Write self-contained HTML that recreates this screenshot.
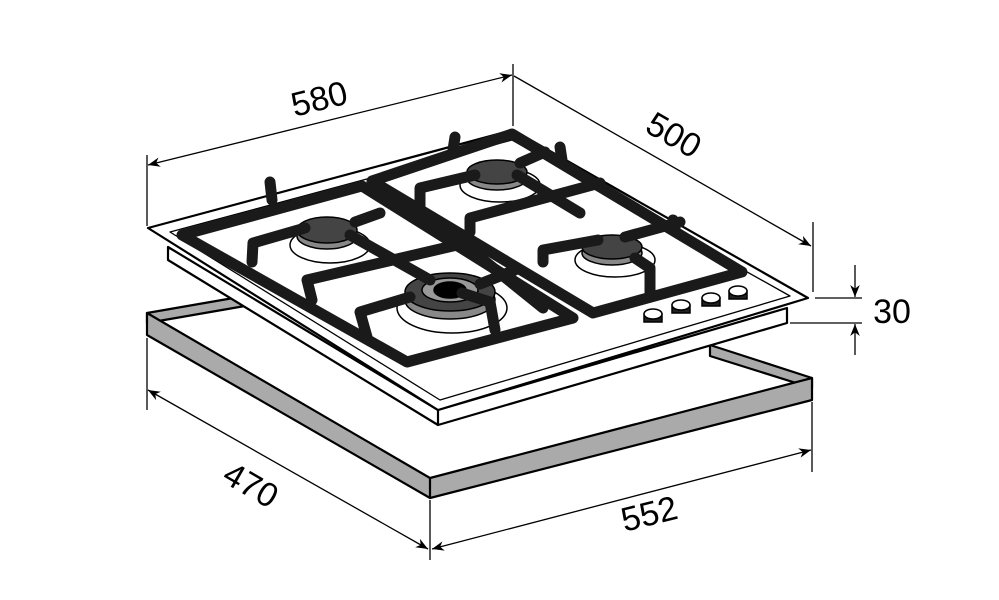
<!DOCTYPE html>
<html><head><style>html,body{margin:0;padding:0;background:#fff}svg{display:block}</style></head>
<body>
<svg width="999" height="600" viewBox="0 0 999 600" xmlns="http://www.w3.org/2000/svg">
<defs>
<marker id="a" viewBox="0 0 10 10" refX="10" refY="5" markerWidth="12" markerHeight="12" orient="auto-start-reverse" markerUnits="userSpaceOnUse"><path d="M0,1 L10,5 L0,9 L3,5 Z" fill="#000"/></marker>
</defs>
<g fill="none" stroke="#000" stroke-width="2.2" stroke-linejoin="round">
<!-- frame -->
<polygon points="147,313 245,296 245,306 147,323" fill="#aaa"/>
<polygon points="710,345 812,378 812,388 710,356" fill="#aaa"/>
<polygon points="147,313 430,478 812,378 812,400 430,498 147,335" fill="#aaa"/>
<line x1="430" y1="478" x2="430" y2="498"/>
<!-- hob sides -->
<polygon points="168,247 438,410 787,308 787,323 438,425 168,260" fill="#fff"/>
<line x1="438" y1="410" x2="438" y2="425"/>
<!-- hob top -->
<polygon points="148,228 513,130 808,298 438,410" fill="#fff"/>
<polygon points="170,232 512,140 790,296 440,400" stroke-width="1.3"/>
</g>
<!-- burners -->
<g stroke="#000" stroke-width="1.5">
<ellipse cx="330" cy="245" rx="40" ry="18" fill="#fff"/>
<ellipse cx="327" cy="236" rx="30" ry="13" fill="#888"/>
<ellipse cx="327" cy="230" rx="30" ry="13" fill="#444"/>
<ellipse cx="500" cy="185" rx="40" ry="17" fill="#fff"/>
<ellipse cx="497" cy="178" rx="30" ry="12" fill="#888"/>
<ellipse cx="497" cy="172" rx="30" ry="12" fill="#444"/>
<ellipse cx="615" cy="260" rx="40" ry="17" fill="#fff"/>
<ellipse cx="612" cy="253" rx="30" ry="12" fill="#888"/>
<ellipse cx="612" cy="247" rx="30" ry="12" fill="#444"/>
<ellipse cx="452" cy="308" rx="55" ry="25" fill="#fff"/>
<ellipse cx="450" cy="300" rx="45" ry="19" fill="#888"/>
<ellipse cx="450" cy="292" rx="45" ry="19" fill="#444"/>
<ellipse cx="450" cy="290" rx="28" ry="12" fill="#999"/>
<ellipse cx="450" cy="290" rx="16" ry="8" fill="#000"/>
</g>
<!-- grates -->
<g fill="none" stroke="#1a1a1a" stroke-width="11" stroke-linejoin="round" stroke-linecap="round">
<polygon points="182,235 362,186 573,318 407,362"/>
<polygon points="372,181 512,134 742,272 593,313"/>
<polyline points="252,262 253,243 305,228"/>
<polyline points="312,300 307,280 470,242"/>
<polyline points="355,222 380,213"/>
<polyline points="350,235 430,280"/>
<polyline points="367,337 360,312 410,297"/>
<polyline points="462,293 490,302 495,330"/>
<polyline points="480,284 515,270"/>
<polyline points="272,200 270,182"/>
<polyline points="430,217 543,308"/>
<polyline points="420,215 420,188 475,175"/>
<polyline points="517,175 580,213"/>
<polyline points="470,232 470,218 600,183"/>
<polyline points="520,163 545,152"/>
<polyline points="453,150 455,137"/>
<polyline points="543,262 543,250 598,240"/>
<polyline points="625,237 680,222"/>
<polyline points="635,258 650,268 650,292"/>
<polyline points="560,147 562,160"/>
<polyline points="673,220 675,228"/>
</g>
<!-- knobs -->
<g stroke="#000" stroke-width="1.5">
<g fill="#222"><rect x="644" y="314" width="18" height="8"/><rect x="672" y="305" width="18" height="8"/><rect x="702" y="298" width="18" height="8"/><rect x="729" y="291" width="18" height="8"/></g>
<g fill="#fff"><ellipse cx="653" cy="314" rx="9" ry="5"/><ellipse cx="681" cy="305" rx="9" ry="5"/><ellipse cx="711" cy="298" rx="9" ry="5"/><ellipse cx="738" cy="291" rx="9" ry="5"/></g>
</g>
<!-- dimensions -->
<g stroke="#000" stroke-width="1.3" fill="none">
<line x1="147" y1="155" x2="147" y2="226"/>
<line x1="513" y1="64" x2="513" y2="126"/>
<line x1="148" y1="165" x2="512" y2="75" marker-start="url(#a)" marker-end="url(#a)"/>
<line x1="514" y1="76" x2="811" y2="246" marker-end="url(#a)"/>
<line x1="813" y1="222" x2="813" y2="292"/>
<line x1="815" y1="298" x2="862" y2="298"/>
<line x1="790" y1="323" x2="862" y2="323"/>
<line x1="855" y1="265" x2="855" y2="297" marker-end="url(#a)"/>
<line x1="855" y1="355" x2="855" y2="324" marker-end="url(#a)"/>
<line x1="147" y1="338" x2="147" y2="410"/>
<line x1="430" y1="500" x2="430" y2="560"/>
<line x1="812" y1="402" x2="812" y2="472"/>
<line x1="148" y1="390" x2="428" y2="549" marker-start="url(#a)" marker-end="url(#a)"/>
<line x1="432" y1="549" x2="811" y2="450" marker-start="url(#a)" marker-end="url(#a)"/>
</g>
<g font-family="Liberation Sans, sans-serif" font-size="34" fill="#000" text-anchor="middle">
<text transform="translate(322,110) rotate(-14)">580</text>
<text transform="translate(668,145) rotate(30)">500</text>
<text x="892" y="323">30</text>
<text transform="translate(245,495) rotate(30)">470</text>
<text transform="translate(652,525) rotate(-14)">552</text>
</g>
</svg>
</body></html>
